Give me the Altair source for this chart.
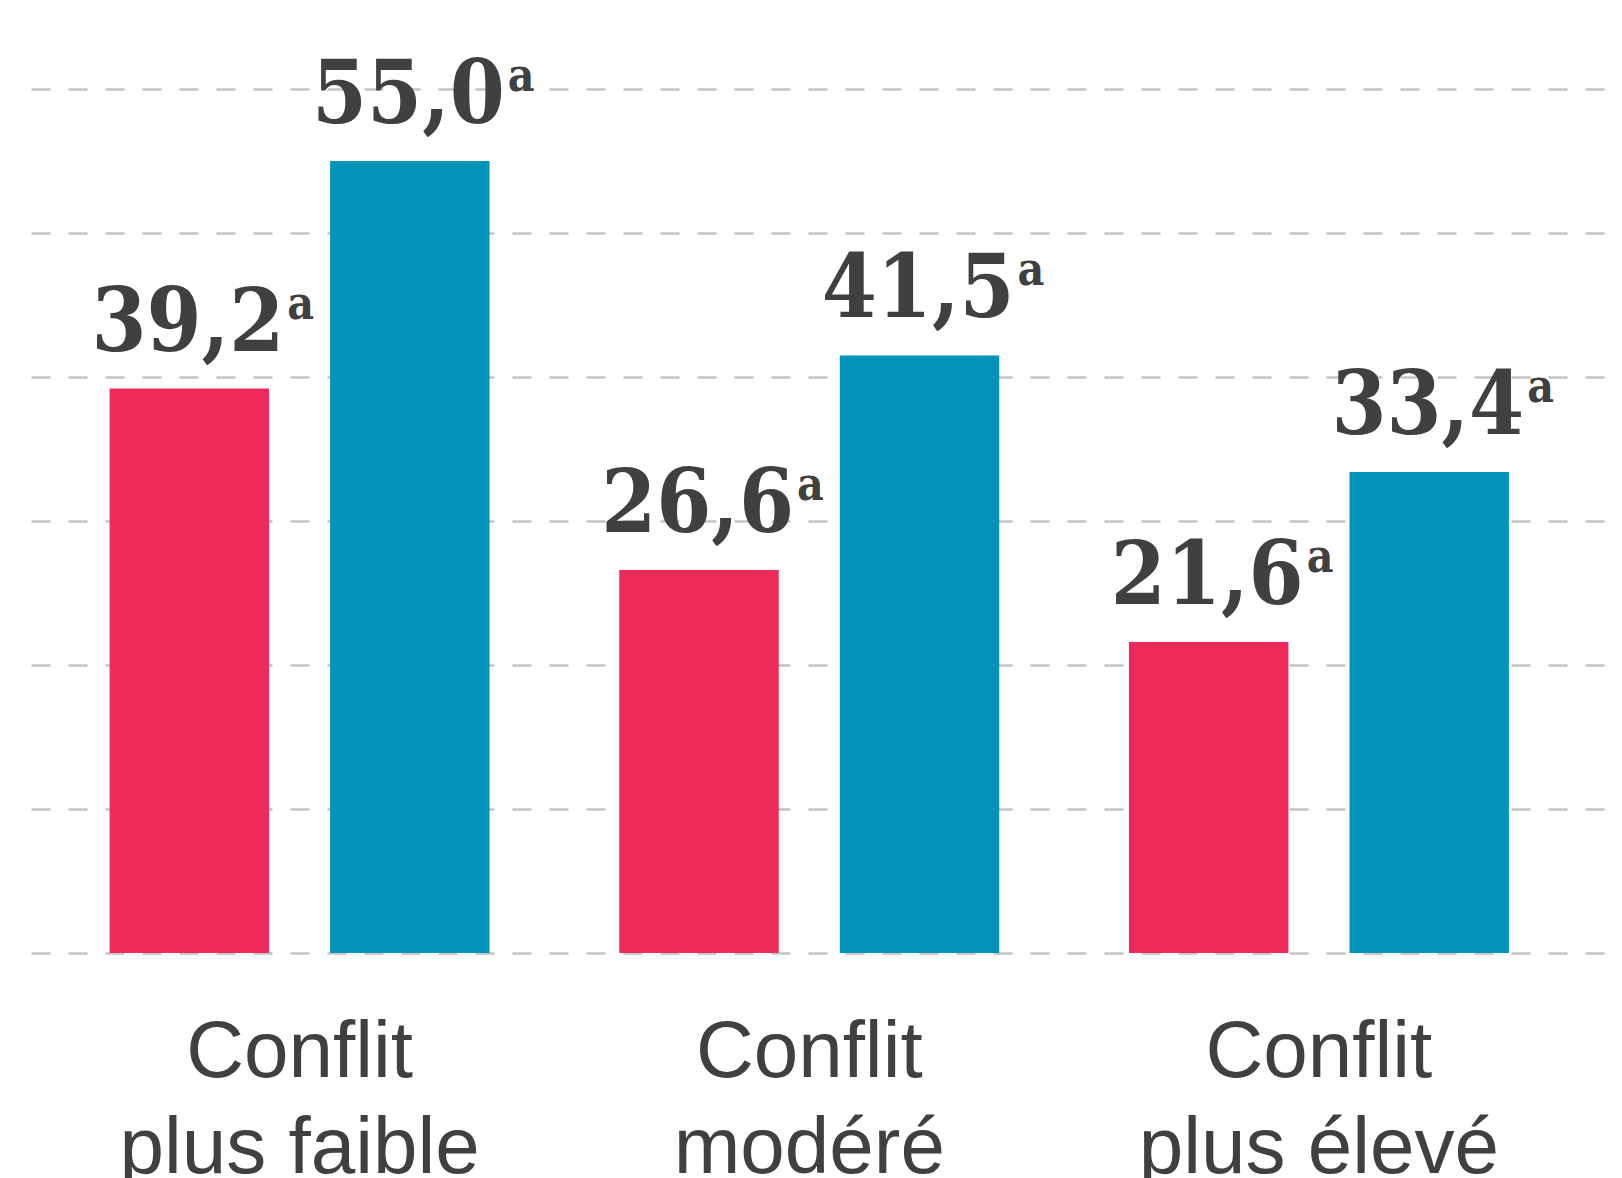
import altair as alt
import pandas as pd

# ---- data ----
categories = ["Conflit\nplus faible", "Conflit\nmodéré", "Conflit\nplus élevé"]
series = ["Série 1", "Série 2"]
values_s1 = [39.2, 26.6, 21.6]
values_s2 = [55.0, 41.5, 33.4]
notes_s1 = ["a", "a", "a"]
notes_s2 = ["a", "a", "a"]
grid_ticks = [0, 10, 20, 30, 40, 50, 60]
colors = ["#EE2A5B", "#0194B8"]

rows = []
for c, v, n in zip(categories, values_s1, notes_s1):
    rows.append({"category": c, "series": series[0], "value": v, "note": n})
for c, v, n in zip(categories, values_s2, notes_s2):
    rows.append({"category": c, "series": series[1], "value": v, "note": n})
df = pd.DataFrame(rows)
cat_df = pd.DataFrame({"category": categories})

W, H = 1580, 864
TXT = "#404040"
SERIF = "DejaVu Serif Condensed, DejaVu Serif, serif"

x = alt.X("category:N", sort=categories,
          scale=alt.Scale(paddingInner=0.2545, paddingOuter=0.1772, align=0.435),
          axis=None)
xo = alt.XOffset("series:N", sort=series,
                 scale=alt.Scale(paddingInner=0.277, paddingOuter=0))
y = alt.Y("value:Q",
          scale=alt.Scale(domain=[0, 60], nice=False, zero=True),
          axis=alt.Axis(values=grid_ticks, grid=True, gridColor="#c4c4c4",
                        gridWidth=2.5, gridDash=[19, 18], labels=False,
                        ticks=False, domain=False, title=None))

bars = alt.Chart(df).mark_bar().encode(
    x=x, xOffset=xo, y=y,
    color=alt.Color("series:N", sort=series,
                    scale=alt.Scale(domain=series, range=colors), legend=None),
)

numbers = alt.Chart(df).transform_calculate(
    label="replace(format(datum.value, '.1f'), '.', ',')"
).mark_text(
    font=SERIF, fontWeight="bold", fontSize=88,
    align="right", baseline="alphabetic", dx=95, dy=-38, color=TXT
).encode(x=x, xOffset=xo, y=alt.Y("value:Q"), text="label:N")

notes = alt.Chart(df).mark_text(
    font=SERIF, fontWeight="bold", fontSize=46,
    align="left", baseline="alphabetic", dx=98, dy=-70, color=TXT
).encode(x=x, xOffset=xo, y=alt.Y("value:Q"), text="note:N")

labels = alt.Chart(cat_df).mark_text(
    font="Liberation Sans", fontSize=80, lineBreak="\n", lineHeight=96,
    baseline="alphabetic", align="center", color=TXT
).encode(x=x, y=alt.value(H + 124), text="category:N")

chart = alt.layer(bars, numbers, notes, labels).properties(
    width=W, height=H,
    padding={"left": 23, "top": 81, "right": 0, "bottom": 225},
    autosize=alt.AutoSizeParams(type="none"),
).configure_view(stroke=None)

chart.save("out.html", embed_options={"renderer": "svg", "actions": False})
